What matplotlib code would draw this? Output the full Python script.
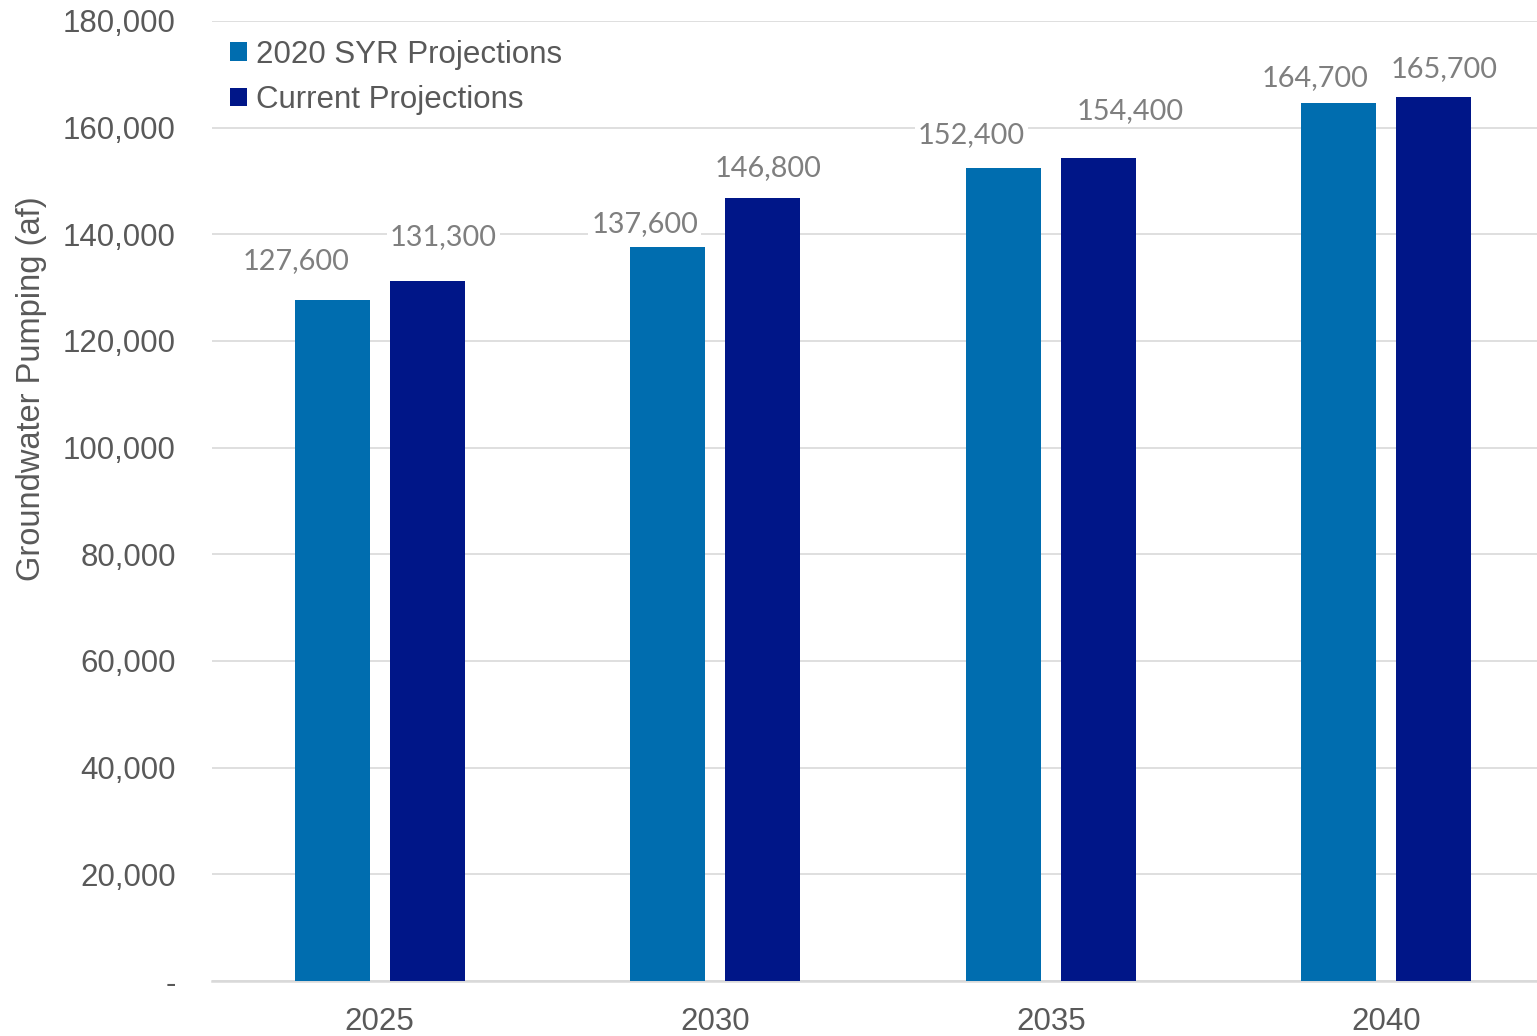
import matplotlib.pyplot as plt
import numpy as np

# Groundwater pumping projections by year
years = ['2025', '2030', '2035', '2040']
syr_2020 = [127600, 137600, 152400, 164700]
current = [131300, 146800, 154400, 165700]

series_names = ['2020 SYR Projections', 'Current Projections']
bar_colors = ['#006DAF', '#001688']

# hand-placed data label offsets (pixels from bar top centre)
label_offsets = [
    [(-36, 39), (-23, 23), (-32, 33), (-24, 25)],
    [(16, 44), (5, 30), (32, 46), (10, 28)],
]

plt.rcParams['font.family'] = ['Liberation Sans', 'DejaVu Sans']

fig = plt.figure(figsize=(15.37, 10.36), dpi=100, facecolor='white')
ax = fig.add_axes([212 / 1537, 1 - 981 / 1036, 1342 / 1537, 960 / 1036])

x = np.arange(len(years))
width = 0.2235
shift = 0.142
all_values = [syr_2020, current]
for i, vals in enumerate(all_values):
    pos = x + (2 * i - 1) * shift
    ax.bar(pos, vals, width, color=bar_colors[i], label=series_names[i], zorder=3)
    for j, v in enumerate(vals):
        dx, dy = label_offsets[i][j]
        ax.annotate(f'{v:,}', (pos[j], v), xytext=(dx, dy), textcoords='offset pixels',
                    ha='center', va='center', fontsize=20.8, color='#7F7F7F',
                    family=['Lato', 'DejaVu Sans'], zorder=4,
                    bbox=dict(facecolor='white', edgecolor='none', pad=2))

ax.set_xlim(-0.5, 3.5)
ax.set_ylim(0, 180000)
ax.set_yticks(np.arange(0, 180001, 20000))
ax.set_yticklabels(['-'] + [f'{t:,}' for t in range(20000, 180001, 20000)])
ax.set_xticks(x)
ax.set_xticklabels(years)
ax.tick_params(length=0, labelsize=22.5, labelcolor='#595959')
ax.tick_params(axis='y', pad=26)
ax.tick_params(axis='x', pad=19)

ax.grid(axis='y', color='#D9D9D9', linewidth=1.2, zorder=0)
for side in ['top', 'right', 'left']:
    ax.spines[side].set_visible(False)
ax.spines['bottom'].set_color('#D9D9D9')
ax.spines['bottom'].set_linewidth(1.8)

ax.set_ylabel('Groundwater Pumping (af)', fontsize=23.5, color='#595959')
ax.yaxis.set_label_coords(-0.123, 0.6167)

leg = ax.legend(loc='upper left', bbox_to_anchor=(0.002, 0.997), frameon=True,
                facecolor='white', edgecolor='none', framealpha=1,
                fontsize=22.5, handlelength=0.52, handleheight=0.52,
                handletextpad=0.3, labelspacing=0.5, borderpad=0.3, borderaxespad=0.2)
for t in leg.get_texts():
    t.set_color('#595959')

fig.savefig('out.png', dpi=100, facecolor='white')
